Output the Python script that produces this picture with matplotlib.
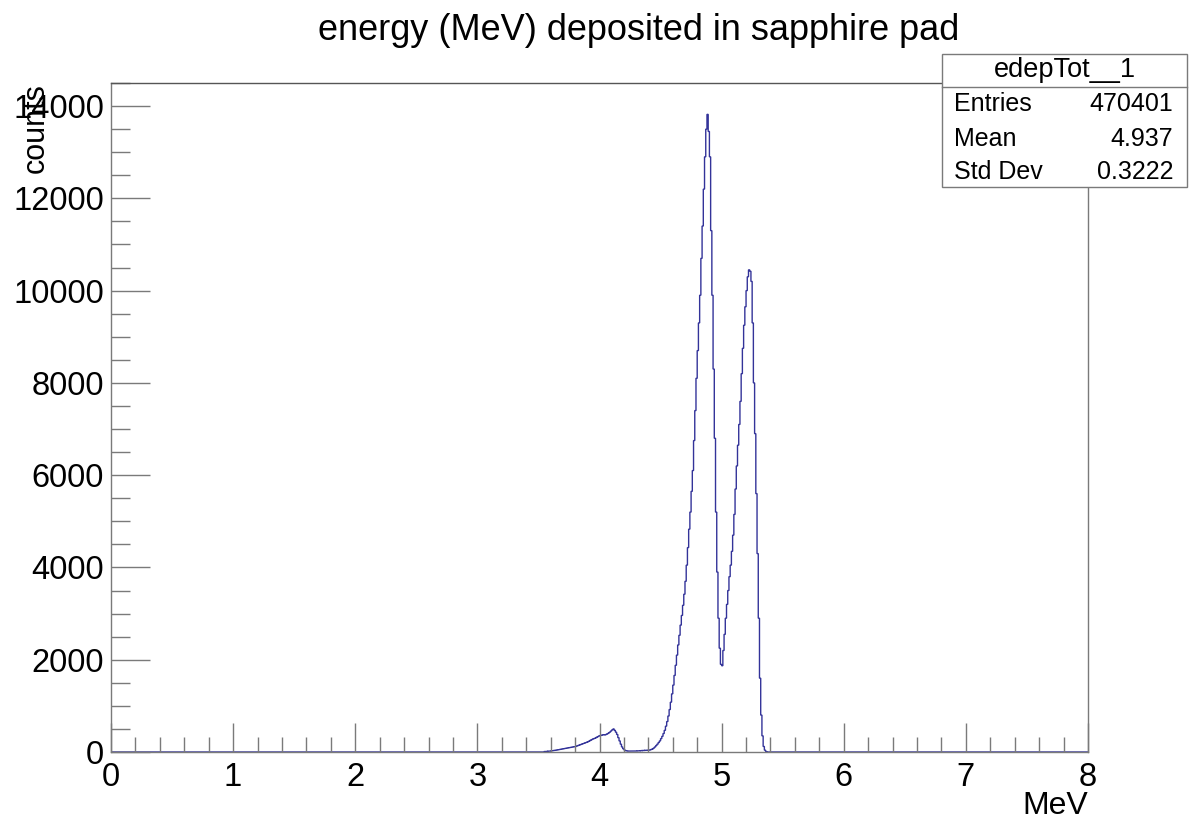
import numpy as np
import matplotlib
matplotlib.use("Agg")
import matplotlib.pyplot as plt
from matplotlib.patches import Rectangle
from matplotlib.ticker import MultipleLocator

plt.rcParams['font.family'] = ['Liberation Sans', 'DejaVu Sans']

# histogram: 800 bins of 0.01 MeV from 0 to 8 MeV
N_BINS = 800
X_MIN, X_MAX = 0.0, 8.0
FIRST_FILLED_BIN = 355  # bin starting at 3.55 MeV; all other bins read as empty

# counts per 0.01 MeV bin, 3.55 .. 5.37 MeV
counts_read = [
    # 3.55 - 3.99
    10, 12, 15, 18, 20, 25, 28, 32, 36, 40, 45, 50, 55, 60, 65,
    70, 75, 80, 85, 90, 95, 100, 105, 110, 115, 120, 130, 140, 150, 160,
    170, 180, 190, 200, 210, 220, 235, 250, 265, 280, 290, 300, 315, 330, 345,
    # 4.00 - 4.39
    355, 360, 370, 375, 370, 380, 395, 410, 430, 455, 480, 500, 470, 430, 380,
    310, 240, 170, 110, 70, 45, 30, 25, 20, 20, 18, 18, 18, 20, 20,
    22, 24, 26, 28, 30, 32, 34, 36, 38, 40,
    # 4.40 - 4.79
    40, 45, 55, 65, 85, 110, 140, 170, 205, 240, 290, 340, 400, 470, 560,
    660, 780, 920, 1080, 1260, 1450, 1660, 1880, 2100, 2320, 2530, 2750, 2960, 3180, 3420,
    3700, 4050, 4430, 4830, 5200, 5650, 6100, 6750, 7400, 8100,
    # 4.80 - 4.99
    8700, 9300, 9900, 10700, 11400, 12200, 12900, 13500, 13820, 13450,
    12900, 11300, 9900, 8300, 6800, 5200, 3900, 2900, 2250, 1900,
    # 5.00 - 5.37
    1870, 2200, 2550, 2900, 3200, 3500, 3800, 4050, 4350, 4700,
    5150, 5700, 6200, 6650, 7100, 7600, 8200, 8750, 9250, 9650,
    10000, 10300, 10450, 10420, 10200, 9300, 8000, 6900, 5600, 4300,
    2900, 1600, 800, 350, 120, 40, 10, 0,
]

stats_name = "edepTot__1"
stats_rows = [("Entries", "470401"), ("Mean", "4.937"), ("Std Dev", "0.3222")]

title = "energy (MeV) deposited in sapphire pad"
x_label = "MeV"
y_label = "counts"

edges = np.linspace(X_MIN, X_MAX, N_BINS + 1)
counts = np.zeros(N_BINS)
counts[FIRST_FILLED_BIN:FIRST_FILLED_BIN + len(counts_read)] = counts_read

W, H = 1198, 818
fig = plt.figure(figsize=(W / 100, H / 100), dpi=100)
ax = fig.add_axes([111 / W, 1 - 752 / H, (1088 - 111) / W, (752 - 83) / H])

ax.stairs(counts, edges, color='#333399', lw=1.0, clip_on=False)
ax.set_xlim(X_MIN, X_MAX)
ax.set_ylim(0, 14500)

frame_col = '#7a7a7a'
for s in ax.spines.values():
    s.set_color(frame_col)
    s.set_linewidth(1.0)
ax.spines['top'].set_color('#555555')

ax.xaxis.set_major_locator(MultipleLocator(1))
ax.xaxis.set_minor_locator(MultipleLocator(0.2))
ax.yaxis.set_major_locator(MultipleLocator(2000))
ax.yaxis.set_minor_locator(MultipleLocator(500))
ax.tick_params(which='both', direction='in', top=False, right=False, color=frame_col,
               labelsize=23.5, width=1.0)
ax.tick_params(axis='x', which='major', length=21, pad=7)
ax.tick_params(axis='x', which='minor', length=11)
ax.tick_params(axis='y', which='major', length=28, pad=5)
ax.tick_params(axis='y', which='minor', length=14)

ax.set_xlabel(x_label, fontsize=23, loc='right', labelpad=0)
ax.set_ylabel(y_label, fontsize=22, loc='top', labelpad=0)
ax.yaxis.set_label_coords(-0.062, 1.0)
ax.xaxis.set_label_coords(1.0, -0.058)

fig.text(639 / W, 1 - 31 / H, title, fontsize=26, ha='center', va='center')

# stats box
bx0, bx1, by0, by1 = 942, 1187, 54, 187
hdr = 87
fig.patches.append(Rectangle((bx0 / W, 1 - by1 / H), (bx1 - bx0) / W, (by1 - by0) / H,
                             transform=fig.transFigure, facecolor='white',
                             edgecolor=frame_col, lw=1.0, zorder=5))
fig.add_artist(plt.Line2D([bx0 / W, bx1 / W], [1 - hdr / H, 1 - hdr / H],
                          transform=fig.transFigure, color=frame_col, lw=1.0, zorder=6))
fig.text((bx0 + bx1) / 2 / W, 1 - 70 / H, stats_name, fontsize=19.5,
         ha='center', va='center', zorder=7)
row_y = [104, 139, 172]
for (k, v), ry in zip(stats_rows, row_y):
    fig.text((bx0 + 12) / W, 1 - ry / H, k, fontsize=18, ha='left', va='center', zorder=7)
    fig.text((bx1 - 14) / W, 1 - ry / H, v, fontsize=18, ha='right', va='center', zorder=7)

fig.savefig("out.png", dpi=100)
